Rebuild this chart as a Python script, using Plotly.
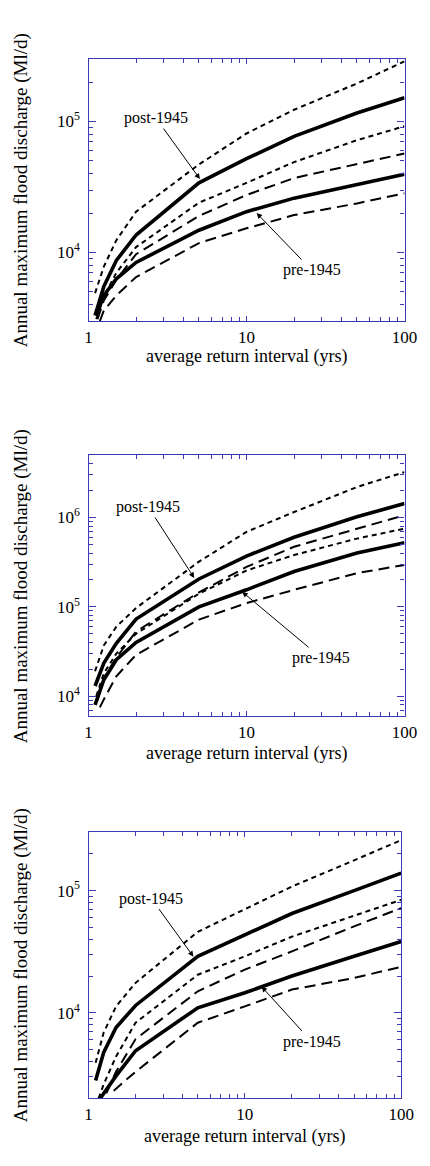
import math
import plotly.graph_objects as go

# ---------------- data ----------------
ari = [1.1, 1.25, 1.5, 2, 5, 10, 20, 50, 100]

# panel 1
p1_post = [3300, 5500, 8700, 13600, 34000, 52000, 77000, 116000, 152000]
p1_post_hi = [4900, 7800, 12400, 20500, 47000, 81000, 123000, 195000, 288000]
p1_post_lo_x = [1.12, 1.25, 1.5, 2, 5, 10, 20, 50, 100]
p1_post_lo = [3100, 4600, 7000, 11000, 24000, 34000, 49000, 72000, 92000]
p1_pre_x = [1.12, 1.25, 1.5, 2, 5, 10, 20, 50, 100]
p1_pre = [3300, 4700, 6300, 8400, 14800, 20500, 26000, 33000, 39500]
p1_pre_hi_x = [1.14, 1.25, 1.5, 2, 5, 10, 20, 50, 100]
p1_pre_hi = [3100, 4300, 6200, 9700, 19000, 27500, 37000, 47000, 57000]
p1_pre_lo_x = [1.18, 1.25, 1.5, 2, 5, 10, 20, 50, 100]
p1_pre_lo = [3000, 3600, 4700, 6500, 11800, 15300, 19300, 23700, 28300]

# panel 2
p2_post = [13000, 23500, 39000, 73000, 205000, 370000, 600000, 1020000, 1430000]
p2_post_hi = [19000, 37000, 60000, 97000, 320000, 690000, 1150000, 2190000, 3220000]
p2_post_lo_x = [1.12, 1.25, 1.5, 2, 5, 10, 20, 50, 100]
p2_post_lo = [10000, 18000, 30000, 50000, 140000, 255000, 380000, 580000, 750000]
p2_pre = [8000, 15300, 25600, 40000, 100000, 155000, 248000, 400000, 520000]
p2_pre_hi_x = [1.14, 1.25, 1.5, 2, 5, 10, 20, 50, 100]
p2_pre_hi = [9000, 16000, 27000, 53000, 145000, 280000, 470000, 750000, 1060000]
p2_pre_lo_x = [1.18, 1.25, 1.5, 2, 5, 10, 20, 50, 100]
p2_pre_lo = [7500, 9200, 16700, 29000, 72000, 110000, 155000, 238000, 294000]

# panel 3
p3_post_x = [1.11, 1.25, 1.5, 2, 5, 10, 20, 50, 100]
p3_post = [2800, 4750, 7600, 11500, 29000, 43600, 65000, 100000, 139000]
p3_post_hi_x = [1.11, 1.25, 1.5, 2, 5, 10, 20, 50, 100]
p3_post_hi = [3900, 6900, 11300, 17600, 46000, 70000, 108000, 177000, 259000]
p3_post_lo_x = [1.16, 1.25, 1.5, 2, 5, 10, 20, 50, 100]
p3_post_lo = [2000, 2600, 4400, 8300, 20500, 29000, 42000, 62000, 84000]
p3_pre_hi_x = [1.3, 1.5, 2, 5, 10, 20, 50, 100]
p3_pre_hi = [2200, 3300, 6100, 15000, 22600, 31800, 51000, 72000]
p3_pre_x = [1.19, 1.25, 1.5, 2, 5, 10, 20, 50, 100]
p3_pre = [2000, 2200, 3050, 4900, 11000, 14600, 20000, 29000, 38400]
p3_pre_lo_x = [1.45, 1.5, 2, 5, 10, 20, 50, 100]
p3_pre_lo = [2300, 2400, 3300, 8300, 11300, 15500, 19300, 23800]

x_ticks = [1, 10, 100]
x_tick_text = ["1", "10", "100"]
y_ticks = [1e4, 1e5, 1e6]
y_tick_text = ["10<sup>4</sup>", "10<sup>5</sup>", "10<sup>6</sup>"]

x_title = "average return interval (yrs)"
y_title = "Annual maximum flood discharge (Ml/d)"
lbl_post = "post-1945"
lbl_pre = "pre-1945"

# ---------------- styling ----------------
W, H = 430, 1166
FONT = "Liberation Serif"
AXC = "#3b3bb5"
SOLID = dict(color="black", width=3.6)
SHORT = dict(color="black", width=2.0, dash="5px,4px")
LONG = dict(color="black", width=2.0, dash="11px,6px")

panels = [
    dict(xdom=(88 / W, 417 / W), ydom=(1 - 321 / H, 1 - 59 / H), yr=(3000, 300000),
         series=[(ari, p1_post_hi, SHORT), (ari, p1_post, SOLID), (p1_post_lo_x, p1_post_lo, SHORT),
                 (p1_pre_hi_x, p1_pre_hi, LONG), (p1_pre_x, p1_pre, SOLID), (p1_pre_lo_x, p1_pre_lo, LONG)],
         post=(0.705, 4.561, -44, -61), pre=(1.064, 4.301, 55, 57), xt=356, yc=190),
    dict(xdom=(88 / W, 417 / W), ydom=(1 - 716 / H, 1 - 455 / H), yr=(6000, 5e6),
         series=[(ari, p2_post_hi, SHORT), (ari, p2_post, SOLID), (p2_post_lo_x, p2_post_lo, SHORT),
                 (p2_pre_hi_x, p2_pre_hi, LONG), (ari, p2_pre, SOLID), (p2_pre_lo_x, p2_pre_lo, LONG)],
         post=(0.669, 5.323, -46, -71), pre=(0.973, 5.167, 79, 66), xt=754, yc=586),
    dict(xdom=(88 / W, 413.5 / W), ydom=(1 - 1098.3 / H, 1 - 832.3 / H), yr=(2000, 300000),
         series=[(p3_post_hi_x, p3_post_hi, SHORT), (p3_post_x, p3_post, SOLID), (p3_post_lo_x, p3_post_lo, SHORT),
                 (p3_pre_hi_x, p3_pre_hi, LONG), (p3_pre_x, p3_pre, SOLID), (p3_pre_lo_x, p3_pre_lo, LONG)],
         post=(0.671, 4.46, -42, -58), pre=(1.107, 4.215, 50, 55), xt=1136, yc=965),
]

fig = go.Figure()
annotations = []
minor_x = [m * 10 ** e for e in range(0, 2) for m in range(2, 10)]
minor_y = [m * 10 ** e for e in range(3, 7) for m in range(2, 10)]

for i, p in enumerate(panels):
    n = "" if i == 0 else str(i + 1)
    xa, ya = "x" + n, "y" + n
    for xs, ys, ln in p["series"]:
        fig.add_trace(go.Scatter(x=xs, y=ys, mode="lines", line=ln, xaxis=xa, yaxis=ya,
                                 showlegend=False, hoverinfo="skip"))
    lo, hi = p["yr"]
    common = dict(type="log", showgrid=False, zeroline=False, showline=True, linecolor=AXC,
                  linewidth=1.3, mirror="allticks", ticks="inside", tickcolor=AXC, tickwidth=1.2,
                  tickfont=dict(family=FONT, size=17, color="black"))
    fig.update_layout(**{
        ("xaxis" + n): dict(common, domain=p["xdom"], range=[0, 2], anchor=ya,
                            tickvals=x_ticks, ticktext=x_tick_text, ticklen=5, ticklabelstandoff=0,
                            minor=dict(tickvals=minor_x, ticks="inside", ticklen=4, tickcolor=AXC, tickwidth=1)),
        ("yaxis" + n): dict(common, domain=p["ydom"], anchor=xa,
                            range=[math.log10(lo), math.log10(hi)],
                            tickvals=y_ticks, ticktext=y_tick_text, ticklen=7, ticklabelstandoff=4,
                            minor=dict(tickvals=minor_y, ticks="inside", ticklen=4, tickcolor=AXC, tickwidth=1)),
    })
    for key, txt in (("post", lbl_post), ("pre", lbl_pre)):
        ax_, ay_, dx, dy = p[key]
        annotations.append(dict(x=ax_, y=ay_, xref=xa, yref=ya, text=txt, showarrow=True,
                                ax=dx, ay=dy, arrowhead=2, arrowsize=1.1, arrowwidth=1,
                                arrowcolor="black", standoff=0,
                                font=dict(family=FONT, size=16, color="black")))
    annotations.append(dict(x=(p["xdom"][0] + p["xdom"][1]) / 2, y=1 - p["xt"] / H, xref="paper", yref="paper",
                            text=x_title, showarrow=False, xanchor="center", yanchor="middle",
                            font=dict(family=FONT, size=18, color="black")))
    annotations.append(dict(x=18 / W, y=1 - p["yc"] / H, xref="paper", yref="paper",
                            text=y_title, showarrow=False, textangle=-90, xanchor="center", yanchor="middle",
                            font=dict(family=FONT, size=19, color="black")))

fig.update_layout(width=W, height=H, margin=dict(l=0, r=0, t=0, b=0),
                  paper_bgcolor="white", plot_bgcolor="white", annotations=annotations,
                  font=dict(family=FONT))
fig.write_html("out.html")
